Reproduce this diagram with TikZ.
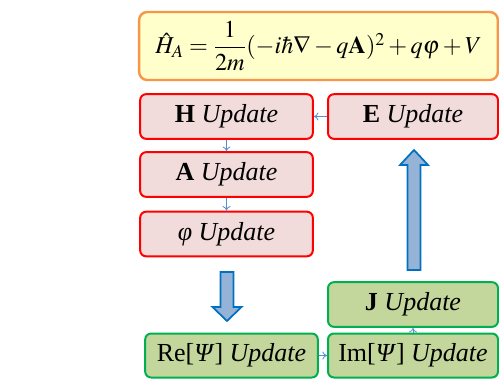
\documentclass[tikz,border=0pt]{standalone}
\usepackage{amsmath}
\usepackage{mathptmx}
\usepackage[no-math]{fontspec}
\setmainfont{Liberation Serif}
\usetikzlibrary{arrows.meta}
\definecolor{redfill}{HTML}{F2DCDB}
\definecolor{redline}{HTML}{FF0000}
\definecolor{grnfill}{HTML}{C3D69B}
\definecolor{grnline}{HTML}{00B050}
\definecolor{hamfill}{HTML}{FFFFCC}
\definecolor{hamline}{HTML}{F79646}
\definecolor{blkfill}{HTML}{95B3D7}
\definecolor{blkline}{HTML}{0070C0}
\definecolor{smallarr}{HTML}{558ED5}
\tikzset{
  redbox/.style={draw=redline, fill=redfill, line width=1.5pt, rounded corners=4.5pt, minimum height=33.5pt, inner sep=0pt, font=\fontsize{19.5}{22}\selectfont},
  grnbox/.style={draw=grnline, fill=grnfill, line width=1.5pt, rounded corners=4.5pt, minimum height=33pt, inner sep=0pt, font=\fontsize{19.5}{22}\selectfont},
  hambox/.style={draw=hamline, fill=hamfill, line width=1.8pt, rounded corners=6pt, minimum width=269pt, minimum height=51pt, inner sep=0pt, font=\fontsize{18.2}{22}\selectfont},
  blkarrow/.style={draw=blkline, fill=blkfill, line width=1.3pt},
  smallarrow/.style={draw=smallarr, line width=0.6pt, -{To[length=3.5pt,width=6pt]}}
}
\newcommand{\upd}{\textit{Update}}
\begin{document}
\begin{tikzpicture}[x=0.75pt,y=-0.75pt]
\useasboundingbox (0,0) rectangle (499,379);
\node[hambox] (ham) at (318.5,46) {$\hat{H}_{A}=\dfrac{1}{2m}(-i\hbar\nabla-q\mathbf{A})^2+q\varphi+V$};
\node[redbox, minimum width=129.5pt] (H) at (226.5,116.5) {\textbf{H} \upd};
\node[redbox, minimum width=127.5pt] (E) at (413,116.5) {\textbf{E} \upd};
\node[redbox, minimum width=129.5pt] (A) at (226.5,174.5) {\textbf{A} \upd};
\node[redbox, minimum width=129.5pt] (P) at (226.5,234) {\textit{φ} \upd};
\node[grnbox, minimum width=127.5pt, minimum height=33.5pt] (J) at (413,304.5) {\textbf{J} \upd};
\node[grnbox, minimum width=129.5pt] (Re) at (231.5,355.5) {Re[\textit{Ψ}] \upd};
\node[grnbox, minimum width=127.5pt] (Im) at (413,355.5) {Im[\textit{Ψ}] \upd};
\draw[smallarrow] (E.west) -- (H.east);
\draw[smallarrow] (H.south) -- (A.north);
\draw[smallarrow] (A.south) -- (P.north);
\draw[smallarrow] (Re.east) -- (Im.west);
\draw[smallarrow] (Im.north) -- (J.south);
% block arrows
\draw[blkarrow] (414,150) -- (428,165) -- (420.5,165) -- (420.5,270) -- (407.5,270) -- (407.5,165) -- (400,165) -- cycle;
\draw[blkarrow] (227,321) -- (241.5,307) -- (233.5,307) -- (233.5,272) -- (220.5,272) -- (220.5,307) -- (212.5,307) -- cycle;
\end{tikzpicture}
\end{document}
